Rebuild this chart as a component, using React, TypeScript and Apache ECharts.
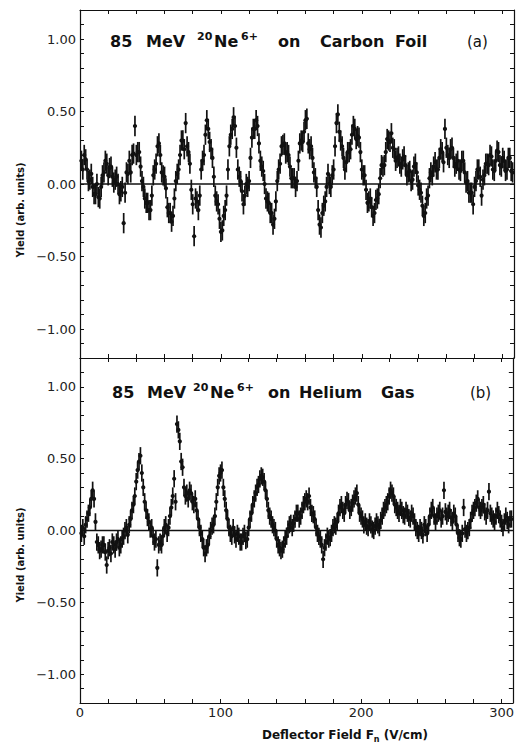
import React, { useEffect, useRef } from "react";
import * as echarts from "echarts";

// Deflector field Fn (V/cm) at which each yield was measured
const FIELD = [
  1, 2, 3, 4, 5, 6, 7, 8, 9, 10,
  11, 12, 13, 14, 15, 16, 17, 18, 19, 20,
  21, 22, 23, 24, 25, 26, 27, 28, 29, 30,
  31, 32, 33, 34, 35, 36, 37, 38, 39, 40,
  41, 42, 43, 44, 45, 46, 47, 48, 49, 50,
  51, 52, 53, 54, 55, 56, 57, 58, 59, 60,
  61, 62, 63, 64, 65, 66, 67, 68, 69, 70,
  71, 72, 73, 74, 75, 76, 77, 78, 79, 80,
  81, 82, 83, 84, 85, 86, 87, 88, 89, 90,
  91, 92, 93, 94, 95, 96, 97, 98, 99, 100,
  101, 102, 103, 104, 105, 106, 107, 108, 109, 110,
  111, 112, 113, 114, 115, 116, 117, 118, 119, 120,
  121, 122, 123, 124, 125, 126, 127, 128, 129, 130,
  131, 132, 133, 134, 135, 136, 137, 138, 139, 140,
  141, 142, 143, 144, 145, 146, 147, 148, 149, 150,
  151, 152, 153, 154, 155, 156, 157, 158, 159, 160,
  161, 162, 163, 164, 165, 166, 167, 168, 169, 170,
  171, 172, 173, 174, 175, 176, 177, 178, 179, 180,
  181, 182, 183, 184, 185, 186, 187, 188, 189, 190,
  191, 192, 193, 194, 195, 196, 197, 198, 199, 200,
  201, 202, 203, 204, 205, 206, 207, 208, 209, 210,
  211, 212, 213, 214, 215, 216, 217, 218, 219, 220,
  221, 222, 223, 224, 225, 226, 227, 228, 229, 230,
  231, 232, 233, 234, 235, 236, 237, 238, 239, 240,
  241, 242, 243, 244, 245, 246, 247, 248, 249, 250,
  251, 252, 253, 254, 255, 256, 257, 258, 259, 260,
  261, 262, 263, 264, 265, 266, 267, 268, 269, 270,
  271, 272, 273, 274, 275, 276, 277, 278, 279, 280,
  281, 282, 283, 284, 285, 286, 287, 288, 289, 290,
  291, 292, 293, 294, 295, 296, 297, 298, 299, 300,
  301, 302, 303, 304, 305, 306, 307,
];

// (a) 85 MeV 20Ne6+ on Carbon Foil
const YIELD_CARBON = [
  0.16, 0.10, 0.20, 0.17, 0.10, 0.02, 0.03, 0.07, -0.02, -0.07,
  -0.07, 0.00, -0.09, -0.10, -0.02, 0.06, 0.08, 0.16, 0.14, 0.06,
  0.11, 0.12, 0.05, 0.01, 0.03, 0.05, 0.00, -0.07, -0.05, -0.02,
  -0.27, -0.06, 0.08, 0.07, 0.16, 0.08, 0.20, 0.21, 0.40, 0.20,
  0.22, 0.22, 0.12, 0.02, -0.02, -0.10, -0.13, -0.13, -0.18, -0.18,
  -0.08, 0.06, 0.10, 0.14, 0.26, 0.28, 0.20, 0.08, 0.06, 0.05,
  -0.03, -0.16, -0.20, -0.20, -0.26, -0.22, -0.10, 0.02, 0.07, 0.10,
  0.20, 0.30, 0.30, 0.24, 0.42, 0.26, 0.22, 0.14, -0.04, -0.14,
  -0.36, -0.10, -0.12, -0.18, -0.08, 0.10, 0.16, 0.20, 0.34, 0.44,
  0.38, 0.29, 0.24, 0.18, 0.05, -0.08, -0.12, -0.14, -0.24, -0.33,
  -0.32, -0.22, -0.18, -0.08, 0.10, 0.26, 0.34, 0.38, 0.46, 0.40,
  0.25, 0.10, 0.05, 0.02, -0.05, -0.14, -0.08, 0.00, -0.02, 0.02,
  0.18, 0.32, 0.38, 0.38, 0.44, 0.40, 0.28, 0.16, 0.12, 0.09,
  0.00, -0.10, -0.12, -0.13, -0.20, -0.20, -0.28, -0.24, -0.12, 0.02,
  0.10, 0.14, 0.26, 0.27, 0.28, 0.21, 0.22, 0.20, 0.12, 0.04,
  0.04, 0.04, -0.02, 0.02, 0.16, 0.28, 0.30, 0.29, 0.36, 0.44,
  0.45, 0.28, 0.24, 0.26, 0.18, 0.08, 0.04, -0.02, -0.18, -0.28,
  -0.30, -0.20, -0.15, -0.12, -0.02, 0.07, 0.00, -0.02, 0.06, 0.10,
  0.26, 0.42, 0.48, 0.36, 0.30, 0.26, 0.18, 0.10, 0.15, 0.22,
  0.22, 0.24, 0.34, 0.40, 0.38, 0.31, 0.33, 0.32, 0.22, 0.10,
  0.06, 0.06, -0.04, -0.13, -0.12, -0.10, -0.16, -0.22, -0.20, -0.11,
  -0.10, -0.07, 0.04, 0.13, 0.12, 0.13, 0.22, 0.31, 0.30, 0.29,
  0.35, 0.25, 0.24, 0.16, 0.18, 0.19, 0.14, 0.12, 0.17, 0.19,
  0.13, 0.06, 0.08, 0.09, 0.02, 0.03, 0.12, 0.14, 0.08, -0.01,
  -0.04, -0.06, -0.15, -0.22, -0.20, -0.10, -0.08, 0.04, 0.08, 0.06,
  0.12, 0.15, 0.10, 0.10, 0.18, 0.24, 0.22, 0.15, 0.38, 0.25,
  0.20, 0.18, 0.24, 0.25, 0.18, 0.12, 0.14, 0.16, 0.10, 0.09,
  0.16, 0.16, 0.08, 0.01, 0.02, -0.06, -0.06, -0.06, -0.14, -0.02,
  0.02, 0.10, 0.10, 0.05, -0.08, 0.03, 0.06, 0.14, 0.14, 0.13,
  0.20, 0.19, 0.10, 0.09, 0.16, 0.23, 0.22, 0.13, 0.12, 0.18,
  0.16, 0.09, 0.10, 0.18, 0.18, 0.09, 0.08,
];

// (b) 85 MeV 20Ne6+ on Helium Gas
const YIELD_HELIUM = [
  -0.02, 0.02, -0.04, 0.04, 0.08, 0.12, 0.16, 0.22, 0.28, 0.22,
  0.06, -0.08, -0.10, -0.14, -0.13, -0.10, -0.10, -0.15, -0.24, -0.14,
  -0.12, -0.16, -0.08, -0.10, -0.13, -0.08, -0.06, -0.12, -0.10, -0.06,
  -0.04, 0.00, 0.02, -0.03, 0.04, 0.08, 0.14, 0.18, 0.24, 0.34,
  0.42, 0.48, 0.52, 0.40, 0.30, 0.20, 0.14, 0.09, 0.06, 0.01,
  0.02, -0.04, -0.08, -0.06, -0.26, -0.10, -0.08, -0.10, -0.04, 0.02,
  0.04, -0.02, 0.02, 0.10, 0.16, 0.24, 0.36, 0.20, 0.74, 0.70,
  0.62, 0.48, 0.44, 0.30, 0.24, 0.26, 0.22, 0.28, 0.26, 0.20,
  0.18, 0.22, 0.14, 0.08, 0.02, -0.02, -0.06, -0.12, -0.16, -0.12,
  -0.10, -0.04, 0.00, 0.03, 0.04, 0.10, 0.20, 0.30, 0.38, 0.40,
  0.42, 0.30, 0.22, 0.14, 0.08, 0.02, -0.02, -0.04, 0.02, -0.03,
  -0.06, -0.02, -0.04, -0.08, -0.08, -0.04, -0.02, -0.07, -0.06, 0.02,
  0.08, 0.12, 0.18, 0.22, 0.26, 0.30, 0.32, 0.36, 0.38, 0.37,
  0.34, 0.28, 0.22, 0.14, 0.10, 0.08, 0.04, 0.02, 0.00, -0.06,
  -0.10, -0.12, -0.14, -0.13, -0.10, -0.06, -0.04, 0.01, 0.04, 0.05,
  0.02, 0.05, 0.08, 0.12, 0.12, 0.08, 0.10, 0.14, 0.18, 0.20,
  0.22, 0.20, 0.24, 0.16, 0.12, 0.11, 0.08, 0.02, -0.02, -0.04,
  -0.06, -0.10, -0.20, -0.12, -0.08, -0.04, -0.06, -0.05, -0.02, 0.02,
  0.04, 0.03, 0.06, 0.12, 0.16, 0.18, 0.14, 0.12, 0.18, 0.21,
  0.20, 0.14, 0.16, 0.19, 0.22, 0.24, 0.26, 0.18, 0.12, 0.10,
  0.08, 0.04, 0.06, 0.03, 0.02, 0.06, 0.04, 0.01, 0.00, 0.03,
  0.06, 0.04, 0.02, 0.07, 0.10, 0.14, 0.16, 0.18, 0.20, 0.24,
  0.28, 0.26, 0.24, 0.18, 0.16, 0.14, 0.12, 0.16, 0.14, 0.11,
  0.10, 0.14, 0.12, 0.09, 0.08, 0.12, 0.10, 0.06, 0.02, 0.00,
  -0.02, 0.02, 0.00, -0.03, 0.04, 0.02, -0.02, 0.04, 0.10, 0.14,
  0.16, 0.10, 0.06, 0.10, 0.12, 0.14, 0.08, 0.10, 0.28, 0.13,
  0.10, 0.12, 0.14, 0.09, 0.06, 0.12, 0.10, 0.04, -0.02, -0.05,
  -0.06, -0.02, 0.16, 0.01, -0.02, 0.00, 0.02, 0.07, 0.12, 0.14,
  0.16, 0.19, 0.22, 0.16, 0.14, 0.16, 0.18, 0.13, 0.10, 0.14,
  0.27, 0.12, 0.10, 0.08, 0.06, 0.10, 0.14, 0.11, 0.08, 0.05,
  0.02, 0.06, 0.10, 0.07, 0.04, 0.08, 0.08,
];

const ERROR_CARBON = 0.07;
const ERROR_HELIUM = 0.06;

const X_LABELS = [0, 100, 200, 300];
const Y_LABELS = [-1, -0.5, 0, 0.5, 1];

const X_MIN = 0;
const X_MAX = 308;
const Y_MIN = -1.2;
const Y_MAX = 1.2;

const INK = "#111";
const FONT = "DejaVu Sans";

function errorBarItem(params: any, api: any) {
  const x = api.value(0);
  const y = api.value(1);
  const e = api.value(2);
  const c = api.coord([x, y]);
  const hi = api.coord([x, y + e]);
  const lo = api.coord([x, y - e]);
  return {
    type: "group",
    children: [
      {
        type: "line",
        shape: { x1: c[0], y1: hi[1], x2: c[0], y2: lo[1] },
        style: { stroke: INK, lineWidth: 1.7 },
      },
      {
        type: "circle",
        shape: { cx: c[0], cy: c[1], r: 2.1 },
        style: { fill: INK },
      },
    ],
  };
}

function xAxis(gridIndex: number, position: string, showLabel: boolean) {
  return {
    type: "value",
    gridIndex,
    position,
    min: X_MIN,
    max: X_MAX,
    interval: 20,
    axisLine: { show: true, onZero: false, lineStyle: { color: INK, width: 1.2 } },
    axisTick: { show: true, inside: true, length: 4, lineStyle: { color: INK, width: 1 } },
    axisLabel: {
      show: showLabel,
      margin: 3,
      fontSize: 13,
      fontFamily: FONT,
      color: "#222",
      formatter: (v: number) => {
        const r = Math.round(v);
        return Math.abs(v - r) < 1e-6 && X_LABELS.includes(r) ? String(r) : "";
      },
    },
    splitLine: { show: false },
  };
}

function yAxis(gridIndex: number, position: string, showLabel: boolean) {
  return {
    type: "value",
    gridIndex,
    position,
    min: Y_MIN,
    max: Y_MAX,
    interval: 0.1,
    axisLine: { show: true, onZero: false, lineStyle: { color: INK, width: 1.2 } },
    axisTick: { show: true, inside: true, length: 4, lineStyle: { color: INK, width: 1 } },
    axisLabel: {
      show: showLabel,
      margin: 4,
      fontSize: 13,
      fontFamily: FONT,
      color: "#222",
      formatter: (v: number) => {
        const r = Math.round(v * 100) / 100;
        if (!Y_LABELS.includes(r)) return "";
        return r < 0 ? "\u2212" + Math.abs(r).toFixed(2) : Math.abs(r).toFixed(2);
      },
    },
    splitLine: { show: false },
  };
}

function titleTexts(
  y: number,
  words: [string, number][],
  sups: [string, number][],
  tag: [string, number]
) {
  const out: any[] = [];
  words.forEach(([t, x]) =>
    out.push({
      type: "text",
      x,
      y,
      style: { text: t, fill: INK, font: `bold 16px "${FONT}"`, align: "left", verticalAlign: "middle" },
    })
  );
  sups.forEach(([t, x]) =>
    out.push({
      type: "text",
      x,
      y: y - 5,
      style: { text: t, fill: INK, font: `bold 11px "${FONT}"`, align: "left", verticalAlign: "middle" },
    })
  );
  out.push({
    type: "text",
    x: tag[1],
    y: y + 1,
    style: { text: tag[0], fill: INK, font: `15px "${FONT}"`, align: "left", verticalAlign: "middle" },
  });
  return out;
}

export default function App() {
  const ref = useRef<HTMLDivElement>(null);

  useEffect(() => {
    if (!ref.current) return;
    const chart = echarts.init(ref.current, null, { renderer: "svg" });

    const carbon = FIELD.map((x, i) => [x, YIELD_CARBON[i], ERROR_CARBON]);
    const helium = FIELD.map((x, i) => [x, YIELD_HELIUM[i], ERROR_HELIUM]);

    const zeroLine = (axis: number) => ({
      type: "line",
      xAxisIndex: axis,
      yAxisIndex: axis,
      data: [[X_MIN, 0], [X_MAX, 0]],
      symbol: "none",
      lineStyle: { color: INK, width: 1.5 },
      silent: true,
      z: 1,
    });

    const option: any = {
      animation: false,
      backgroundColor: "#fff",
      grid: [
        { left: 80, top: 10, width: 434, height: 348 },
        { left: 80, top: 358, width: 434, height: 345 },
      ],
      xAxis: [
        xAxis(0, "bottom", false),
        xAxis(0, "top", false),
        xAxis(1, "bottom", true),
        xAxis(1, "top", false),
      ],
      yAxis: [
        yAxis(0, "left", true),
        yAxis(0, "right", false),
        yAxis(1, "left", true),
        yAxis(1, "right", false),
      ],
      series: [
        zeroLine(0),
        zeroLine(2),
        {
          type: "custom",
          xAxisIndex: 0,
          yAxisIndex: 0,
          renderItem: errorBarItem,
          data: carbon,
          encode: { x: 0, y: 1 },
          silent: true,
          z: 2,
        },
        {
          type: "custom",
          xAxisIndex: 2,
          yAxisIndex: 2,
          renderItem: errorBarItem,
          data: helium,
          encode: { x: 0, y: 1 },
          silent: true,
          z: 2,
        },
      ],
      graphic: [
        ...titleTexts(
          41,
          [["85", 110], ["MeV", 146], ["Ne", 214], ["on", 278], ["Carbon", 320], ["Foil", 395]],
          [["20", 197], ["6+", 241]],
          ["(a)", 467]
        ),
        ...titleTexts(
          392,
          [["85", 112], ["MeV", 147], ["Ne", 210], ["on", 268], ["Helium", 299], ["Gas", 381]],
          [["20", 193], ["6+", 237]],
          ["(b)", 470]
        ),
        {
          type: "text",
          x: 20,
          y: 210,
          rotation: Math.PI / 2,
          style: { text: "Yield (arb. units)", fill: INK, font: `bold 10px "${FONT}"`, align: "center", verticalAlign: "middle" },
        },
        {
          type: "text",
          x: 20,
          y: 555,
          rotation: Math.PI / 2,
          style: { text: "Yield (arb. units)", fill: INK, font: `bold 10px "${FONT}"`, align: "center", verticalAlign: "middle" },
        },
        {
          type: "text",
          x: 262,
          y: 735,
          style: {
            text: "{m|Deflector Field F}{s|n}{m| (V/cm)}",
            fill: INK,
            align: "left",
            verticalAlign: "middle",
            rich: {
              m: { fontFamily: FONT, fontWeight: "bold", fontSize: 12, lineHeight: 16, fill: INK },
              s: { fontFamily: FONT, fontWeight: "bold", fontSize: 8, lineHeight: 16, verticalAlign: "bottom", fill: INK },
            },
          },
        },
      ],
    };

    chart.setOption(option);
    return () => chart.dispose();
  }, []);

  return (
    <div
      ref={ref}
      style={{ position: "fixed", left: 0, top: 0, width: 517, height: 742, background: "#fff" }}
    />
  );
}
